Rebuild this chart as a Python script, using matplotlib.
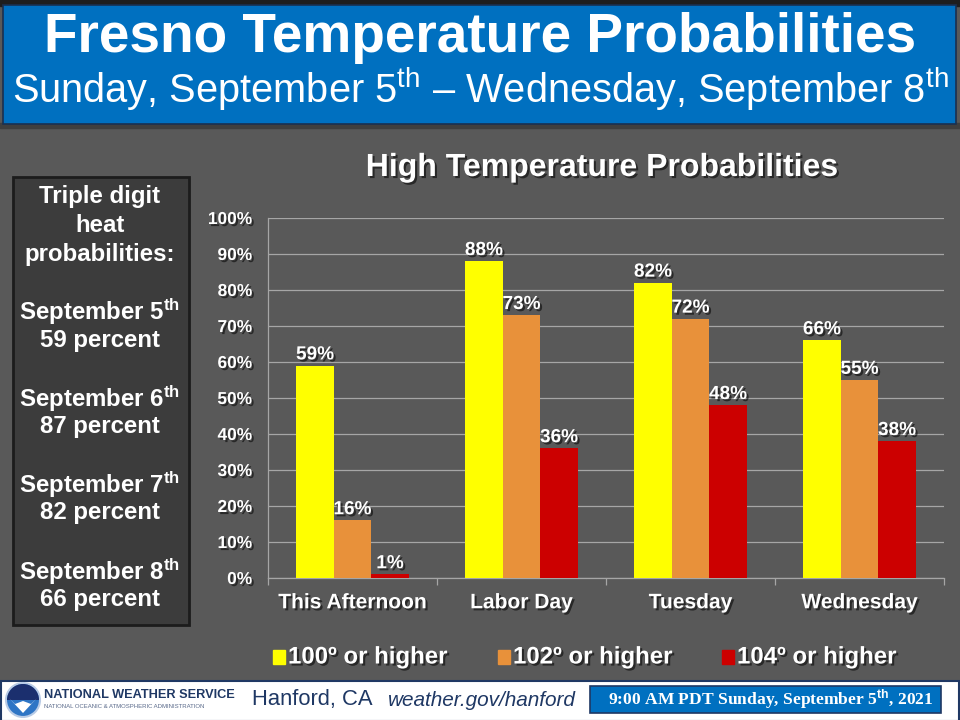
import numpy as np
import matplotlib
matplotlib.use('Agg')
import matplotlib.pyplot as plt
import matplotlib.patches as mpatches
import matplotlib.patheffects as pe

# chart values
days = ['This Afternoon', 'Labor Day', 'Tuesday', 'Wednesday']
p100 = [59, 88, 82, 66]
p102 = [16, 73, 72, 55]
p104 = [1, 36, 48, 38]
series_names = ['100º or higher', '102º or higher', '104º or higher']
yticks = [0, 10, 20, 30, 40, 50, 60, 70, 80, 90, 100]

# side box text
side_dates = ['5', '6', '7', '8']
side_pct = [59, 87, 82, 66]

plt.rcParams['font.family'] = ['Liberation Sans', 'DejaVu Sans']
plt.rcParams['mathtext.fontset'] = 'custom'
plt.rcParams['mathtext.rm'] = 'Liberation Sans'
plt.rcParams['mathtext.bf'] = 'Liberation Sans:bold'
plt.rcParams['mathtext.it'] = 'Liberation Sans:italic'

BG = '#595959'
YEL = '#FFFF00'
ORA = '#E8913A'
RED = '#CC0000'
BLUE = '#0070C0'
NAVY = '#1F3864'

W, H = 960, 720
fig = plt.figure(figsize=(W / 100, H / 100), dpi=100)
fig.patch.set_facecolor(BG)

def px(v):
    # pixel size to points
    return v * 72 / 100

shadow = [pe.withSimplePatchShadow(offset=(1.5, -1.5), shadow_rgbFace='black', alpha=0.55)]

# overlay for boxes / free text, in pixel coordinates
ov = fig.add_axes([0, 0, 1, 1])
ov.set_xlim(0, W)
ov.set_ylim(H, 0)
ov.axis('off')

# header
ov.add_patch(mpatches.Rectangle((0, 0), W, 6, color='#1e1e1e', zorder=1))
ov.add_patch(mpatches.Rectangle((0, 123), W, 5, color='#3f3f3f', zorder=1))
ov.add_patch(mpatches.Rectangle((3, 5), 953, 119, facecolor=BLUE, edgecolor='#1a3050', lw=1.2, zorder=2))
ov.text(480, 38, 'Fresno Temperature Probabilities', color='white', fontsize=px(55),
        fontweight='bold', ha='center', va='center', zorder=3)
ov.text(480, 89, r'Sunday, September 5$^{\mathrm{th}}$ – Wednesday, September 8$^{\mathrm{th}}$',
        color='white', fontsize=px(39.7), ha='center', va='center', zorder=3)

# side box
ov.add_patch(mpatches.Rectangle((13, 177), 176, 448, facecolor='#3c3c3c', edgecolor='#1c1c1c', lw=2, zorder=2))
side_lines = [('Triple digit', 196), ('heat', 225), ('probabilities:', 254)]
y0 = 312
for d, p in zip(side_dates, side_pct):
    side_lines.append((r'September %s$^{\mathbf{th}}$' % d, y0))
    side_lines.append(('%d percent' % p, y0 + 28))
    y0 += 86.5
for txt, yy in side_lines:
    ov.text(100, yy, txt, color='white', fontsize=px(24), fontweight='bold',
            ha='center', va='center', zorder=3)

# chart title
ov.text(602, 168, 'High Temperature Probabilities', color='white', fontsize=px(32),
        fontweight='bold', ha='center', va='center', path_effects=shadow, zorder=3)

# legend
leg_cols = [YEL, ORA, RED]
leg_x = [273, 498, 722]
for c, x0, name in zip(leg_cols, leg_x, series_names):
    ov.add_patch(mpatches.Rectangle((x0, 650), 12, 14, color=c, zorder=3))
    ov.text(x0 + 15, 657, name, color='white', fontsize=px(24), fontweight='bold',
            ha='left', va='center', path_effects=shadow, zorder=3)

# footer
ov.add_patch(mpatches.Rectangle((1, 681), W - 2, 40, facecolor='white', edgecolor=NAVY, lw=1.5, zorder=2))
ov.add_patch(mpatches.Circle((23, 700), 17, facecolor='#2e75c5', edgecolor='#b8cbe6', lw=1.5, zorder=3))
ov.add_patch(mpatches.Wedge((23, 700), 16, 180, 360, facecolor='#1b2f6e', zorder=4))
ov.add_patch(mpatches.Polygon([[9, 698], [23, 713], [37, 698], [31, 704], [23, 701], [15, 704]],
                              closed=True, facecolor='white', zorder=5))
ov.text(44, 695, 'NATIONAL WEATHER SERVICE', color=NAVY, fontsize=px(12.8), fontweight='bold',
        ha='left', va='center', zorder=4)
ov.text(44, 706, 'NATIONAL OCEANIC & ATMOSPHERIC ADMINISTRATION', color='#5a6a8a', fontsize=px(6),
        ha='left', va='center', zorder=4)
ov.text(252, 700, 'Hanford, CA', color=NAVY, fontsize=px(22), ha='left', va='center', zorder=4)
ov.text(388, 701, 'weather.gov/hanford', color=NAVY, fontsize=px(20.8), style='italic',
        ha='left', va='center', zorder=4)
ov.add_patch(mpatches.Rectangle((590, 686), 351, 27, facecolor=BLUE, edgecolor=NAVY, lw=1.2, zorder=3))
ov.text(771, 699.5, r'9:00 AM PDT Sunday, September 5$^{\mathbf{th}}$, 2021', color='white',
        fontsize=px(17.5), fontweight='bold', family=['Liberation Serif'], ha='center', va='center', zorder=4)

# main chart
ax = fig.add_axes([268 / W, (H - 578) / H, (944 - 268) / W, (578 - 218) / H])
ax.set_facecolor('none')
x = np.arange(len(days))
bw = 0.222
for off, vals, c in zip([-bw, 0, bw], [p100, p102, p104], leg_cols):
    bars = ax.bar(x + off, vals, bw, color=c, zorder=3)
    for b, v in zip(bars, vals):
        ax.text(b.get_x() + b.get_width() / 2, v + 0.6, '%d%%' % v, color='white',
                fontsize=px(19), fontweight='bold', ha='center', va='bottom',
                path_effects=shadow, zorder=4)

ax.set_xlim(-0.5, len(days) - 0.5)
ax.set_ylim(0, 100)
ax.set_yticks(yticks)
ax.set_yticklabels(['%d%%' % t for t in yticks])
ax.yaxis.grid(True, color='#a6a6a6', lw=0.9, zorder=1)
ax.set_xticks(x)
ax.set_xticklabels(days)
ax.set_xticks(np.arange(len(days) + 1) - 0.5, minor=True)
ax.tick_params(axis='x', which='major', length=0, pad=11, labelsize=px(21), labelcolor='white')
ax.tick_params(axis='x', which='minor', length=5, color='#a6a6a6', width=0.9)
ax.tick_params(axis='y', length=0, pad=11.5, labelsize=px(17.3), labelcolor='white')
for lab in ax.get_xticklabels() + ax.get_yticklabels():
    lab.set_fontweight('bold')
    lab.set_path_effects(shadow)
for s in ['top', 'right']:
    ax.spines[s].set_visible(False)
for s in ['left', 'bottom']:
    ax.spines[s].set_color('#a6a6a6')
    ax.spines[s].set_linewidth(0.9)

fig.savefig('out.png', dpi=100, facecolor=fig.get_facecolor())
